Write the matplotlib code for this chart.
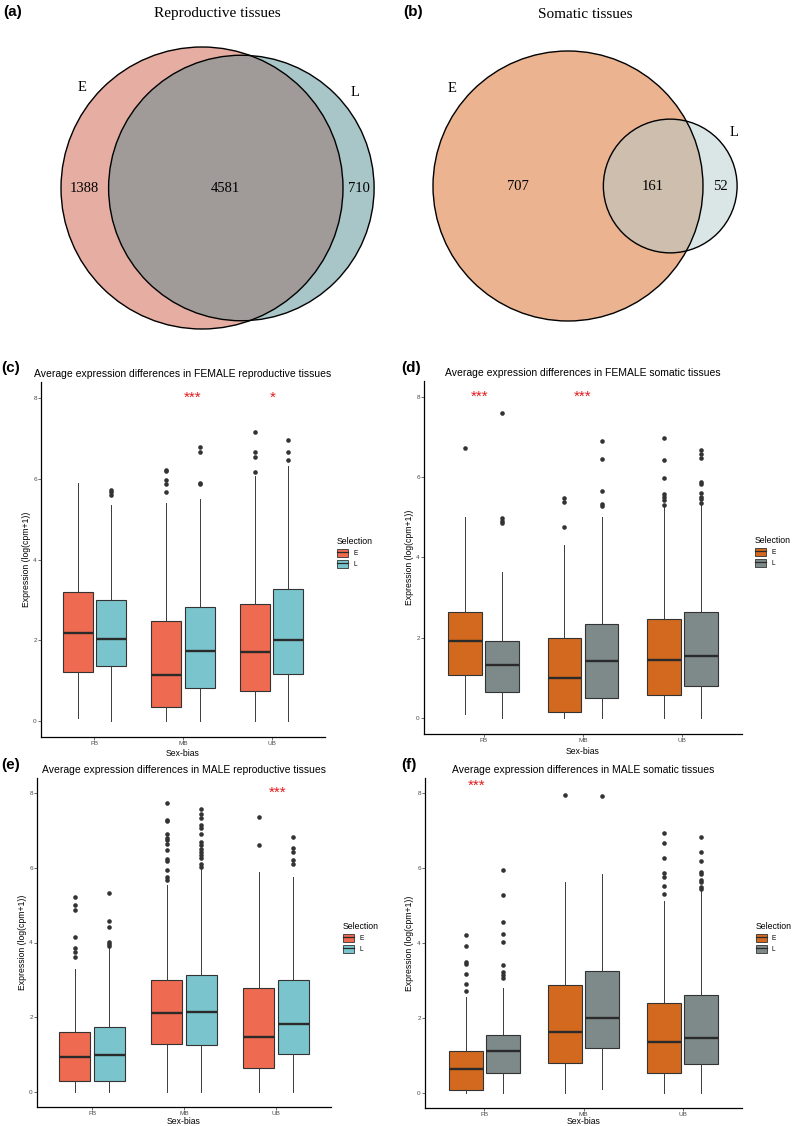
import numpy as np
import matplotlib
matplotlib.use('Agg')
import matplotlib.pyplot as plt
from matplotlib.patches import Circle, Patch
from matplotlib.lines import Line2D

plt.rcParams['font.family'] = ['Liberation Sans', 'DejaVu Sans']

W, H = 797, 1126

# venn counts: E only, shared, L only
rep_counts = [1388, 4581, 710]
som_counts = [707, 161, 52]

cats = ['FB', 'MB', 'UB']

# box stats per sex-bias class: [whisker low, q1, median, q3, whisker high]
# (c) female reproductive
c_E = [[0.08, 1.22, 2.18, 3.20, 5.90],
       [0.00, 0.35, 1.14, 2.47, 5.40],
       [0.00, 0.75, 1.71, 2.89, 6.06]]
c_L = [[0.00, 1.36, 2.02, 2.99, 5.36],
       [0.00, 0.81, 1.72, 2.83, 5.50],
       [0.00, 1.17, 2.00, 3.27, 6.33]]
c_E_out = [[], [6.23, 6.20, 5.98, 5.87, 5.67], [7.17, 6.67, 6.53, 6.18]]
c_L_out = [[5.73, 5.67, 5.61], [6.80, 6.67, 5.90, 5.86], [6.95, 6.67, 6.46]]
c_stars = ['***', '*']
c_star_x = [2.11, 3.01]
c_star_y = [8.0, 8.0]

# (d) female somatic
d_E = [[0.10, 1.06, 1.92, 2.65, 5.02],
       [0.00, 0.15, 1.00, 1.99, 4.30],
       [0.00, 0.58, 1.45, 2.46, 5.28]]
d_L = [[0.00, 0.65, 1.33, 1.93, 3.65],
       [0.00, 0.50, 1.43, 2.35, 5.00],
       [0.00, 0.79, 1.55, 2.63, 5.31]]
d_E_out = [[6.72], [5.48, 5.38, 4.77], [6.98, 6.43, 5.97, 5.58, 5.51, 5.43, 5.31]]
d_L_out = [[7.60, 4.99, 4.92, 4.87], [6.90, 6.46, 5.65, 5.33, 5.28],
           [6.69, 6.57, 6.48, 5.89, 5.83, 5.60, 5.51, 5.45, 5.36]]
d_stars = ['***', '***']
d_star_x = [0.96, 2.00]
d_star_y = [8.0, 8.0]

# (e) male reproductive
e_E = [[0.00, 0.29, 0.94, 1.61, 3.29],
       [0.00, 1.28, 2.11, 2.99, 5.55],
       [0.00, 0.65, 1.48, 2.78, 5.88]]
e_L = [[0.00, 0.29, 0.99, 1.73, 3.88],
       [0.00, 1.26, 2.14, 3.14, 5.98],
       [0.00, 1.03, 1.83, 3.01, 5.75]]
e_E_out = [[5.23, 5.00, 4.87, 4.14, 3.85, 3.74, 3.62],
           [7.73, 7.28, 7.24, 6.89, 6.80, 6.73, 6.64, 6.48, 6.24, 6.17, 5.94, 5.75, 5.68],
           [7.35, 6.60]]
e_L_out = [[5.32, 4.57, 4.41, 4.02, 3.96, 3.91],
           [7.57, 7.43, 7.33, 7.13, 7.06, 6.89, 6.68, 6.60, 6.51, 6.43, 6.35, 6.26, 6.10, 6.03],
           [6.82, 6.52, 6.42, 6.21, 6.10]]
e_stars = ['***']
e_star_x = [3.02]
e_star_y = [8.0]

# (f) male somatic
f_E = [[0.00, 0.09, 0.65, 1.11, 2.57],
       [0.00, 0.80, 1.64, 2.88, 5.63],
       [0.00, 0.53, 1.35, 2.41, 5.13]]
f_L = [[0.00, 0.53, 1.12, 1.55, 2.81],
       [0.11, 1.20, 2.00, 3.25, 5.83],
       [0.00, 0.77, 1.48, 2.61, 5.41]]
f_E_out = [[4.21, 3.93, 3.50, 3.43, 3.18, 2.90, 2.71], [7.94],
           [6.93, 6.68, 6.27, 5.88, 5.75, 5.53, 5.30]]
f_L_out = [[5.94, 5.29, 4.55, 4.23, 4.03, 3.41, 3.24, 3.15, 3.06], [7.92],
           [6.83, 6.42, 6.20, 5.90, 5.84, 5.68, 5.62, 5.50, 5.44]]
f_stars = ['***']
f_star_x = [0.92]
f_star_y = [8.2]


def px(x, y):
    return x / W, 1 - y / H


def lens_area(r1, r2, d):
    if d >= r1 + r2:
        return 0.0
    if d <= abs(r1 - r2):
        return np.pi * min(r1, r2) ** 2
    a1 = r1**2 * np.arccos((d**2 + r1**2 - r2**2) / (2 * d * r1))
    a2 = r2**2 * np.arccos((d**2 + r2**2 - r1**2) / (2 * d * r2))
    a3 = 0.5 * np.sqrt((-d + r1 + r2) * (d + r1 - r2) * (d - r1 + r2) * (d + r1 + r2))
    return a1 + a2 - a3


def centre_dist(r1, r2, target):
    lo, hi = abs(r1 - r2), r1 + r2
    for _ in range(80):
        mid = (lo + hi) / 2
        if lens_area(r1, r2, mid) > target:
            lo = mid
        else:
            hi = mid
    return (lo + hi) / 2


def draw_venn(ax, counts, cx, cy, rE, cols, title):
    onlyE, both, onlyL = counts
    k = rE / np.sqrt(onlyE + both)
    rL = k * np.sqrt(onlyL + both)
    d = centre_dist(rE, rL, np.pi * k**2 * both)
    lx = cx + d
    cE = Circle((cx, cy), rE, facecolor=cols[0], edgecolor='none', zorder=1)
    cL = Circle((lx, cy), rL, facecolor=cols[1], edgecolor='none', zorder=2)
    ax.add_patch(cE)
    ax.add_patch(cL)
    ov = Circle((lx, cy), rL, facecolor=cols[2], edgecolor='none', zorder=3)
    ax.add_patch(ov)
    ov.set_clip_path(cE)
    for c in [(cx, cy, rE), (lx, cy, rL)]:
        ax.add_patch(Circle(c[:2], c[2], facecolor='none', edgecolor='black', lw=1.0, zorder=4))
    # region labels midway between the circle edges
    eL, eR = cx - rE, cx + rE
    lL, lR = lx - rL, lx + rL
    kw = dict(ha='center', va='center', fontsize=10.5, family='Liberation Serif', zorder=5)
    ax.text((eL + lL) / 2, cy, str(onlyE), **kw)
    ax.text((lL + eR) / 2, cy, str(both), **kw)
    ax.text((eR + lR) / 2, cy, str(onlyL), **kw)
    a1, a2 = np.deg2rad(140), np.deg2rad(40)
    ax.text(cx + (rE + 16) * np.cos(a1), cy - (rE + 16) * np.sin(a1), 'E', **kw)
    ax.text(lx + (rL + 16) * np.cos(a2), cy - (rL + 16) * np.sin(a2), 'L', **kw)
    ax.text((eL + lR) / 2, 14, title, ha='center', va='center', fontsize=11,
            family='Liberation Serif')


fig = plt.figure(figsize=(W / 100, H / 100), dpi=100)

top = fig.add_axes([0, 1 - 345 / H, 1, 345 / H])
top.set_xlim(0, W)
top.set_ylim(345, 0)
top.axis('off')
draw_venn(top, rep_counts, 202, 188, 141, ['#E6ADA3', '#A8C5C7', '#A09B99'], 'Reproductive tissues')
draw_venn(top, som_counts, 568, 186, 135, ['#EBB38F', '#DAE6E6', '#CDBEAD'], 'Somatic tissues')
fig.text(*px(3, 12), '(a)', fontsize=11, fontweight='bold', va='center')
fig.text(*px(403, 12), '(b)', fontsize=11, fontweight='bold', va='center')


def draw_box_panel(box, E, L, E_out, L_out, colE, colL, title, stars, sx, sy,
                   letter, ylab_x, xlab_off, leg_xy):
    x0, y0, x1, y1 = box
    ax = fig.add_axes([x0 / W, 1 - y1 / H, (x1 - x0) / W, (y1 - y0) / H])
    for src, outs, off, col in ((E, E_out, -0.1875, colE), (L, L_out, 0.1875, colL)):
        stats = [dict(whislo=s[0], q1=s[1], med=s[2], q3=s[3], whishi=s[4], fliers=o)
                 for s, o in zip(src, outs)]
        ax.bxp(stats, positions=np.arange(1, len(cats) + 1) + off, widths=0.3375,
               patch_artist=True, showcaps=False, manage_ticks=False,
               boxprops=dict(facecolor=col, edgecolor='#333333', linewidth=0.8),
               medianprops=dict(color='#2a2a2a', linewidth=1.7),
               whiskerprops=dict(color='#3a3a3a', linewidth=0.7),
               flierprops=dict(marker='o', markerfacecolor='#333333',
                               markeredgecolor='none', markersize=3.3))
    for t, x, y in zip(stars, sx, sy):
        ax.text(x, y, t, color='#E31A1C', ha='center', va='center', fontsize=11)
    ax.set_xlim(0.4, 3.6)
    ax.set_ylim(-0.4, 8.4)
    ax.set_xticks(range(1, len(cats) + 1))
    ax.set_xticklabels(cats)
    ax.set_yticks([0, 2, 4, 6, 8])
    for s in ['top', 'right']:
        ax.spines[s].set_visible(False)
    for s in ['left', 'bottom']:
        ax.spines[s].set_linewidth(0.9)
    ax.tick_params(length=2.0, width=0.5, color='#333333', labelcolor='#4D4D4D',
                   labelsize=4.6, pad=1.0)
    ax.set_title(title, fontsize=7.5, pad=3.5)
    ax.set_xlabel('Sex-bias', fontsize=6.2, va='center')
    ax.xaxis.set_label_coords(0.5, -xlab_off / (y1 - y0))
    ax.set_ylabel('Expression (log(cpm+1))', fontsize=6.2, va='center')
    ax.yaxis.set_label_coords((ylab_x - x0) / (x1 - x0), 0.5)
    handles = [(Patch(facecolor=colE, edgecolor='#333333', lw=0.6),
                Line2D([], [], color='#2a2a2a', lw=0.9)),
               (Patch(facecolor=colL, edgecolor='#333333', lw=0.6),
                Line2D([], [], color='#2a2a2a', lw=0.9))]
    ax.legend(handles, ['E', 'L'], title='Selection', loc='upper left',
              bbox_to_anchor=px(*leg_xy), bbox_transform=fig.transFigure,
              frameon=False, fontsize=4.8, title_fontsize=6.3, alignment='left',
              handlelength=1.7, handleheight=1.4, handletextpad=0.7,
              labelspacing=0.45, borderaxespad=0, borderpad=0)
    fig.text(*px(letter[1], letter[2]), letter[0], fontsize=11, fontweight='bold', va='center')
    return ax


draw_box_panel((41, 382, 325, 737), c_E, c_L, c_E_out, c_L_out, '#EE6A50', '#7AC5CD',
               'Average expression differences in FEMALE reproductive tissues',
               c_stars, c_star_x, c_star_y, ('(c)', 1, 368), 27, 17, (337, 537))
draw_box_panel((424, 381, 742, 734), d_E, d_L, d_E_out, d_L_out, '#D2691E', '#7E8A8A',
               'Average expression differences in FEMALE somatic tissues',
               d_stars, d_star_x, d_star_y, ('(d)', 401, 368), 410, 17, (755, 536))
draw_box_panel((37, 778, 331, 1107), e_E, e_L, e_E_out, e_L_out, '#EE6A50', '#7AC5CD',
               'Average expression differences in MALE reproductive tissues',
               e_stars, e_star_x, e_star_y, ('(e)', 1, 765), 23, 14.5, (343, 922))
draw_box_panel((425, 778, 742, 1108), f_E, f_L, f_E_out, f_L_out, '#D2691E', '#7E8A8A',
               'Average expression differences in MALE somatic tissues',
               f_stars, f_star_x, f_star_y, ('(f)', 401, 765), 410, 14, (756, 922))

fig.savefig('out.png', dpi=100)
